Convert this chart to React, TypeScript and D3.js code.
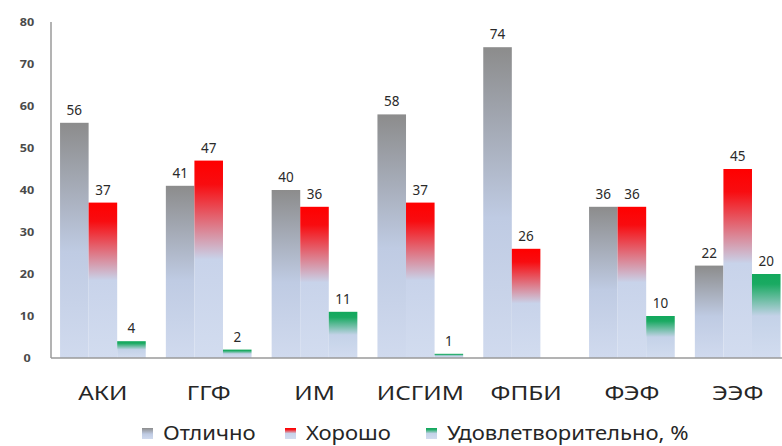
import React from 'react';
import * as d3 from 'd3';

const categories = ['АКИ', 'ГГФ', 'ИМ', 'ИСГИМ', 'ФПБИ', 'ФЭФ', 'ЭЭФ'];
const seriesNames = ['Отлично', 'Хорошо', 'Удовлетворительно, %'];
const excellent = [56, 41, 40, 58, 74, 36, 22];
const good = [37, 47, 36, 37, 26, 36, 45];
const satisfactory: (number | null)[] = [4, 2, 11, 1, null, 10, 20];
const yTicks = [0, 10, 20, 30, 40, 50, 60, 70, 80];

const W = 782;
const H = 446;
const FONT = "'Noto Sans', 'Open Sans', sans-serif";

const gradStops = [
  [{ o: 0, c: '#8c8c8c' }, { o: 0.55, c: '#bfcbe3' }, { o: 1, c: '#d0daee' }],
  [{ o: 0, c: '#ff0000' }, { o: 0.12, c: '#f80c10' }, { o: 0.5, c: '#c8d3ea' }, { o: 1, c: '#d2dcef' }],
  [{ o: 0, c: '#12a85c' }, { o: 0.12, c: '#1aaa62' }, { o: 0.5, c: '#c4d2e8' }, { o: 1, c: '#d2dcef' }],
];

export default function App() {
  const x = d3.scaleBand<string>().domain(categories).range([50, 790.6]).paddingInner(0.19).paddingOuter(0.095);
  const sub = d3.scaleBand<string>().domain(['0', '1', '2']).range([0, x.bandwidth()]).padding(0);
  const y = d3.scaleLinear().domain([0, 80]).range([358, 22]);
  const series = [excellent, good, satisfactory];

  const legendX = [142, 285, 426];

  return (
    <div style={{ position: 'fixed', left: 0, top: 0 }}>
      <svg width={W} height={H} style={{ display: 'block', background: '#fff' }}>
        <defs>
          {gradStops.map((stops, i) => (
            <linearGradient key={i} id={`g${i}`} x1="0" y1="0" x2="0" y2="1">
              {stops.map((s, j) => (
                <stop key={j} offset={s.o} stopColor={s.c} />
              ))}
            </linearGradient>
          ))}
        </defs>

        {/* y tick labels */}
        {yTicks.map((t) => (
          <text
            key={t}
            transform={`translate(27,${y(t) + 4}) scale(1.2,1)`}
            textAnchor="middle"
            fontFamily={FONT}
            fontSize={10.5}
            fontWeight="bold"
            fill="#4a4a4a"
          >
            {t}
          </text>
        ))}

        {/* bars */}
        {series.map((vals, si) =>
          categories.map((c, ci) => {
            const v = vals[ci];
            if (v == null) return null;
            const bx = (x(c) as number) + (sub(String(si)) as number);
            return (
              <rect
                key={`${si}-${ci}`}
                x={bx}
                y={y(v)}
                width={sub.bandwidth()}
                height={y(0) - y(v)}
                fill={`url(#g${si})`}
              />
            );
          })
        )}

        {/* axes */}
        <line x1={51} x2={51} y1={y(80)} y2={y(0)} stroke="#9a9a9a" strokeWidth={1.5} />
        <line x1={51} x2={W} y1={y(0)} y2={y(0)} stroke="#9a9a9a" strokeWidth={1.5} />

        {/* data labels */}
        {series.map((vals, si) =>
          categories.map((c, ci) => {
            const v = vals[ci];
            if (v == null) return null;
            const cx = (x(c) as number) + (sub(String(si)) as number) + sub.bandwidth() / 2;
            return (
              <text
                key={`l${si}-${ci}`}
                x={cx}
                y={y(v) - 8}
                textAnchor="middle"
                fontFamily={FONT}
                fontSize={13.5}
                fill="#2a2a2a"
              >
                {v}
              </text>
            );
          })
        )}

        {/* category labels */}
        {categories.map((c) => (
          <text
            key={c}
            transform={`translate(${(x(c) as number) + x.bandwidth() / 2},400) scale(1.22,1)`}
            textAnchor="middle"
            fontFamily={FONT}
            fontSize={20}
            fill="#262626"
          >
            {c}
          </text>
        ))}

        {/* legend */}
        {seriesNames.map((n, i) => (
          <g key={n}>
            <rect x={legendX[i]} y={428} width={11} height={11} fill={`url(#g${i})`} />
            <text
              transform={`translate(${legendX[i] + 21},440) scale(1.16,1)`}
              fontFamily={FONT}
              fontSize={19}
              fill="#262626"
            >
              {n}
            </text>
          </g>
        ))}
      </svg>
    </div>
  );
}
